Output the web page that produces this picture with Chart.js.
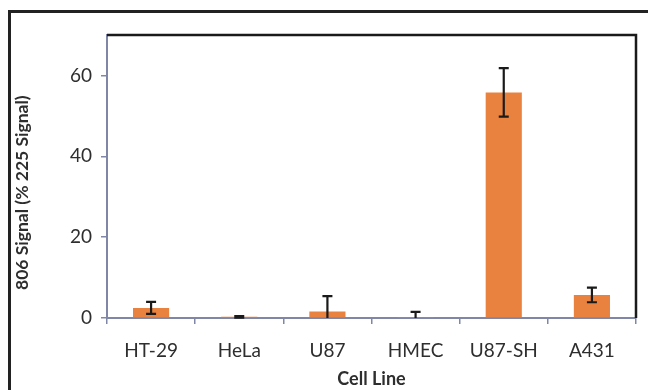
<!DOCTYPE html>
<html>
<head>
<meta charset="utf-8">
<script src="https://cdn.jsdelivr.net/npm/chart.js@4/dist/chart.umd.min.js"></script>
<style>
  html, body { margin: 0; padding: 0; background: #ffffff; }
  #wrap { position: relative; width: 648px; height: 390px; }
  #frame { position: absolute; left: 8px; top: 10px; width: 660px; height: 400px;
           border: 3px solid #222; box-sizing: border-box; pointer-events: none; }
  canvas { position: absolute; left: 0; top: 0; }
</style>
</head>
<body>
<div id="wrap">
  <canvas id="c" width="648" height="390"></canvas>
  <div id="frame"></div>
</div>
<script>
const categories = ['HT-29', 'HeLa', 'U87', 'HMEC', 'U87-SH', 'A431'];
const signalValues = [2.5, 0.3, 1.6, 0.1, 55.8, 5.7];
const signalErrors = [1.5, 0.2, 3.8, 1.4, 6.0, 1.8];
const yTicks = [0, 20, 40, 60];
const yTitle = '806 Signal (% 225 Signal)';

const axisColor = '#7f86a6';
const textColor = '#2e2e2e';
const barColor = '#e9823f';

// Error bars with caps, the black top/right plot border and the y-axis title
const errorBarsPlugin = {
  id: 'errorBars',
  afterDatasetsDraw(chart) {
    const ctx = chart.ctx;
    const meta = chart.getDatasetMeta(0);
    const y = chart.scales.y;
    const area = chart.chartArea;
    ctx.save();
    ctx.strokeStyle = '#1a1a1a';
    ctx.lineWidth = 2.2;
    meta.data.forEach((bar, i) => {
      const v = signalValues[i], e = signalErrors[i];
      const lo = Math.max(0, v - e), hi = v + e;
      const x = bar.x;
      const yl = y.getPixelForValue(lo), yh = y.getPixelForValue(hi);
      ctx.beginPath();
      ctx.moveTo(x, yl); ctx.lineTo(x, yh);
      ctx.moveTo(x - 5, yh); ctx.lineTo(x + 5, yh);
      if (v - e > 0) { ctx.moveTo(x - 5, yl); ctx.lineTo(x + 5, yl); }
      ctx.stroke();
    });
    ctx.strokeStyle = '#1a1a1a';
    ctx.lineWidth = 2.5;
    ctx.beginPath();
    ctx.moveTo(area.left, area.top);
    ctx.lineTo(area.right, area.top);
    ctx.lineTo(area.right, area.bottom);
    ctx.stroke();

    // rotated y-axis title, sitting slightly below the plot's middle
    ctx.translate(22, y.getPixelForValue(31));
    ctx.rotate(-Math.PI / 2);
    ctx.fillStyle = textColor;
    ctx.font = 'bold 17.5px Lato';
    ctx.textAlign = 'center';
    ctx.textBaseline = 'middle';
    ctx.fillText(yTitle, 0, 0);
    ctx.restore();
  }
};

new Chart(document.getElementById('c'), {
  type: 'bar',
  data: {
    labels: categories,
    datasets: [{
      data: signalValues,
      backgroundColor: barColor,
      borderWidth: 0,
      barPercentage: 0.41,
      categoryPercentage: 1.0
    }]
  },
  options: {
    responsive: false,
    animation: false,
    devicePixelRatio: 1,
    layout: { padding: { left: 0, top: 35, right: 12, bottom: 0 } },
    plugins: { legend: { display: false }, tooltip: { enabled: false } },
    scales: {
      x: {
        grid: { display: true, drawOnChartArea: false, offset: true,
                tickLength: 6, color: axisColor, tickColor: axisColor, lineWidth: 1.5 },
        border: { color: axisColor, width: 2 },
        ticks: { color: textColor, font: { family: 'Lato', size: 19 }, padding: 15 },
        title: { display: true, text: 'Cell Line', color: textColor,
                 font: { family: 'Lato', size: 18, weight: 'bold' },
                 padding: { top: 0, bottom: 0 } },
        afterFit(scale) { scale.height = 72; }
      },
      y: {
        min: 0, max: 70,
        afterBuildTicks(scale) { scale.ticks = yTicks.map(v => ({ value: v })); },
        grid: { display: true, drawOnChartArea: false, tickLength: 6,
                color: axisColor, tickColor: axisColor, lineWidth: 1.5 },
        border: { color: axisColor, width: 2 },
        ticks: { color: textColor, font: { family: 'Lato', size: 19 }, padding: 9 },
        afterFit(scale) { scale.width = 107; }
      }
    }
  },
  plugins: [errorBarsPlugin]
});
</script>
</body>
</html>
